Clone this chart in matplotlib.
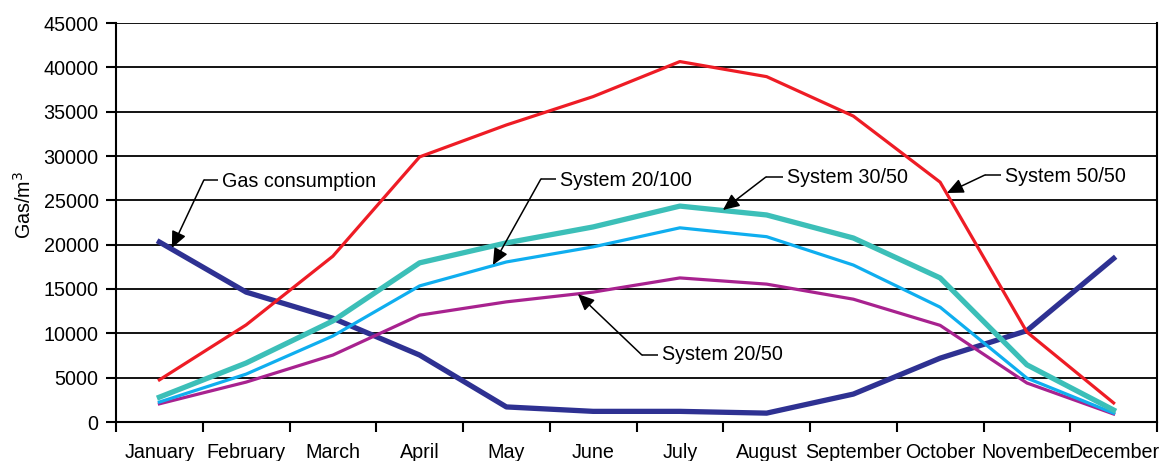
import matplotlib
matplotlib.use("Agg")
import matplotlib.pyplot as plt
import numpy as np

months = ["January", "February", "March", "April", "May", "June", "July",
          "August", "September", "October", "November", "December"]
gas_consumption = [20300, 14650, 11700, 7550, 1700, 1200, 1200, 1000, 3150, 7200, 10300, 18450]
system_50_50 = [4750, 10950, 18700, 29900, 33500, 36700, 40650, 38950, 34500, 27050, 10150, 2150]
system_30_50 = [2800, 6650, 11400, 17950, 20200, 22000, 24350, 23350, 20750, 16250, 6450, 1350]
system_20_100 = [2250, 5400, 9700, 15350, 18050, 19750, 21900, 20900, 17700, 12950, 4950, 1000]
system_20_50 = [2050, 4500, 7550, 12050, 13550, 14650, 16250, 15550, 13850, 10900, 4400, 900]
yticks = list(range(0, 45001, 5000))

FS = 14.2
plt.rcParams['font.family'] = ['Liberation Sans', 'DejaVu Sans']
fig = plt.figure(figsize=(11.6, 4.61), dpi=100)
W, H = 1160, 461
ax = fig.add_axes([116 / W, 1 - 422 / H, (1157 - 116) / W, (422 - 23) / H])

x = np.arange(len(months))
ax.plot(x, gas_consumption, color='#2E3192', lw=3.8, zorder=3)
ax.plot(x, system_20_50, color='#A8228F', lw=2.3, zorder=3)
ax.plot(x, system_20_100, color='#0FAEEF', lw=2.3, zorder=3)
ax.plot(x, system_30_50, color='#3CBFB8', lw=3.8, zorder=3)
ax.plot(x, system_50_50, color='#EE1C25', lw=2.3, zorder=4)

ax.set_xlim(-0.5, len(months) - 0.5)
ax.set_ylim(0, 45000)
ax.set_yticks(yticks)
ax.set_yticklabels([str(v) for v in yticks], fontsize=FS)
ax.set_xticks(x)
ax.set_xticklabels(months, fontsize=FS)
ax.set_xticks(np.arange(-0.5, len(months) + 0.5, 1), minor=True)
ax.tick_params(axis='x', which='major', length=0, pad=15)
ax.tick_params(axis='x', which='minor', length=7, width=1.5, direction='out')
ax.tick_params(axis='y', length=7, width=1.5, direction='out', pad=5.5)
ax.yaxis.grid(True, color='black', lw=1.3, zorder=1)
ax.set_axisbelow(True)
for s in ['left', 'right', 'bottom']:
    ax.spines[s].set_linewidth(1.5)
ax.spines['top'].set_visible(False)
ax.set_ylabel('Gas/m$^3$', fontsize=FS)
ax.yaxis.set_label_coords(-(116 - 35) / (1157 - 116), (422 - 205) / (422 - 23))

def px(p):
    return (p - 159.5) / 86.75

def py(p):
    return (422 - p) * 45000 / 399

def callout(label, text_xy, corner_xy, tip_xy):
    tx, ty = text_xy
    cx, cy = corner_xy
    ax.text(px(tx), py(ty), label, fontsize=FS, va='center', ha='left', zorder=6)
    ax.plot([px(cx), px(tx - 4)], [py(cy), py(cy)], color='black', lw=1.1, zorder=6,
            solid_capstyle='butt')
    ax.annotate('', xy=(px(tip_xy[0]), py(tip_xy[1])), xytext=(px(cx), py(cy)),
                arrowprops=dict(arrowstyle='-|>,head_length=1.0,head_width=0.45',
                                color='black', lw=1.1, shrinkA=0, shrinkB=0),
                zorder=6)

callout('Gas consumption', (222, 181), (204, 180), (172, 248))
callout('System 20/100', (560, 180), (541, 179), (493, 265))
callout('System 30/50', (787, 177), (766, 177), (723, 210))
callout('System 50/50', (1005, 176), (985, 175), (947, 193))
callout('System 20/50', (662, 355), (642, 355), (578, 294))

fig.savefig('out.png', dpi=100)
